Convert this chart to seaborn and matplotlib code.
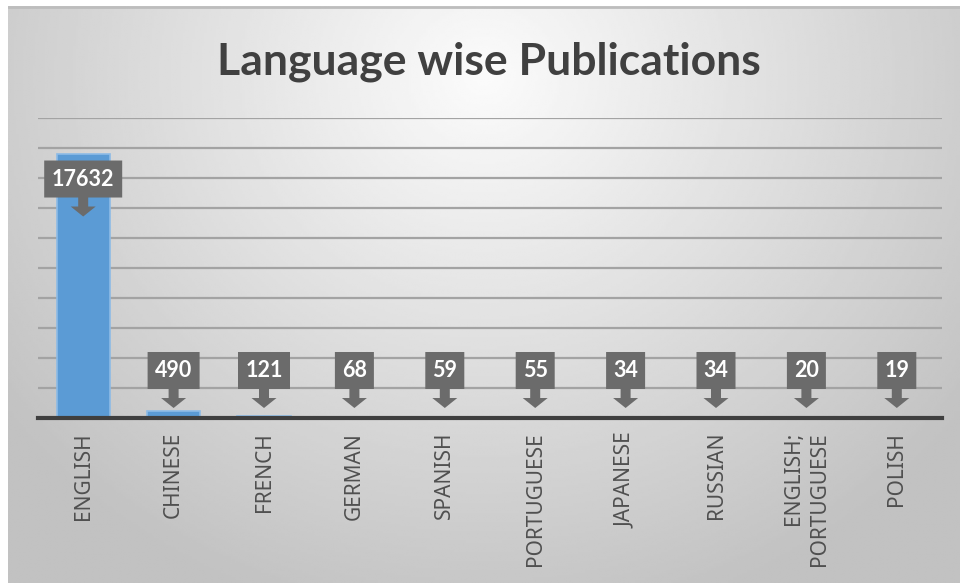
import numpy as np
import matplotlib
matplotlib.use("Agg")
import matplotlib.pyplot as plt
import matplotlib.transforms as mtransforms
from matplotlib.patches import Polygon
import seaborn as sns
import pandas as pd

# ---- data ----
languages = ["ENGLISH", "CHINESE", "FRENCH", "GERMAN", "SPANISH", "PORTUGUESE",
             "JAPANESE", "RUSSIAN", "ENGLISH;\nPORTUGUESE", "POLISH"]
counts = [17632, 490, 121, 68, 59, 55, 34, 34, 20, 19]
title = "Language wise Publications"

df = pd.DataFrame({"language": languages, "count": counts})

sns.set_theme(style="white")
plt.rcParams["font.family"] = ["Lato", "DejaVu Sans"]

W, H = 960, 583
fig = plt.figure(figsize=(W / 100, H / 100), dpi=100)
fig.patch.set_facecolor("white")

# ---- background gradient (chart area) ----
bg = fig.add_axes([8 / W, 0, 1 - 8 / W, 1 - 6 / H], zorder=0)
nx, ny = 400, 250
xx, yy = np.meshgrid(np.linspace(0, 1, nx), np.linspace(0, 1, ny))
r = np.sqrt(((xx - 0.5) / 0.62) ** 2 + ((yy - 0.12) / 0.95) ** 2)
val = np.clip(0.985 - 0.22 * r, 0.76, 1.0)
bg.imshow(val, cmap="gray", vmin=0, vmax=1, aspect="auto", extent=(0, 1, 1, 0),
          interpolation="bilinear")
bg.set_xlim(0, 1)
bg.set_ylim(1, 0)
bg.axis("off")
bg.axhline(0.002, color="#bdbdbd", lw=2)

# ---- main axes ----
base_px, top_px = 418, 118
ax = fig.add_axes([38 / W, (H - base_px) / H, (942 - 38) / W, (base_px - top_px) / H], zorder=1)
ax.set_facecolor("none")

sns.barplot(data=df, x="language", y="count", color="#5b9bd5", width=0.59,
            edgecolor="#8dbbe6", linewidth=1.2, saturation=1, ax=ax, zorder=2)

ax.set_ylim(0, 20000)
ax.set_yticks(np.arange(0, 20001, 2000))
ax.yaxis.grid(True, color="#a3a3a3", lw=1.6, zorder=0)
ax.set_axisbelow(True)
ax.tick_params(axis="y", left=False, labelleft=False)
for s in ["left", "right", "top"]:
    ax.spines[s].set_visible(False)
ax.spines["bottom"].set_color("#3f3f3f")
ax.spines["bottom"].set_linewidth(3)
ax.spines["bottom"].set_zorder(3)
ax.set_xlabel("")
ax.set_ylabel("")
ax.tick_params(axis="x", bottom=False, pad=4)
ax.set_xticks(range(len(languages)))
ax.set_xticklabels(languages, rotation=90, fontsize=15, fontfamily="Noto Sans",
                   color="#505050", ha="center", va="top", multialignment="right",
                   linespacing=1.3)

# ---- callout data labels ----
px = 1 / 100.0
for i, v in enumerate(counts):
    txt = str(v)
    if v > 5000:
        anchor_y = v
        tip = -63
    else:
        anchor_y = 0
        tip = 10
    trans = fig.dpi_scale_trans + mtransforms.ScaledTranslation(i, anchor_y, ax.transData)
    bw = 13 * len(txt) + 13
    hb = bw / 2
    box_b = tip + 19
    box_t = box_b + 37
    verts = [
        (0, tip), (12.5, tip + 10), (5, tip + 10), (5, box_b), (hb, box_b), (hb, box_t),
        (-hb, box_t), (-hb, box_b), (-5, box_b), (-5, tip + 10), (-12.5, tip + 10),
    ]
    verts = [(a * px, b * px) for a, b in verts]
    poly = Polygon(verts, closed=True, transform=trans, facecolor="#6b6b6b",
                   edgecolor="none", zorder=5, clip_on=False)
    ax.add_patch(poly)
    ax.text(0, (box_b + box_t) / 2 * px, txt, transform=trans, ha="center", va="center",
            color="white", fontsize=15.5, fontweight="bold", zorder=6)

fig.text(489 / W, 1 - 62 / H, title, ha="center", va="center", fontsize=32,
         fontweight="bold", color="#404040")

fig.savefig("out.png", dpi=100)
